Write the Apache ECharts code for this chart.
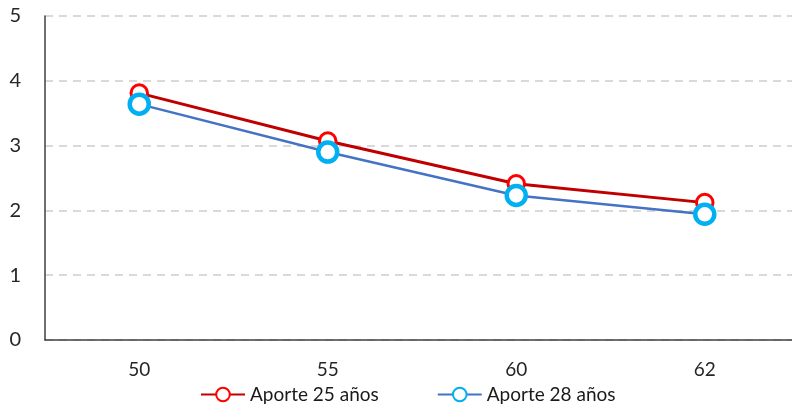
<!DOCTYPE html>
<html>
<head>
<meta charset="UTF-8">
<script src="https://cdn.jsdelivr.net/npm/echarts@6/dist/echarts.min.js"></script>
<style>
  html, body { margin: 0; padding: 0; background: #fff; }
  #chart { width: 792px; height: 410px; }
</style>
</head>
<body>
<div id="chart"></div>
<script>
// edades de jubilación
var categorias = ['50', '55', '60', '62'];
var aporte25 = [3.81, 3.07, 2.41, 2.12];
var aporte28 = [3.64, 2.90, 2.23, 1.94];
var nombres = ['Aporte 25 años', 'Aporte 28 años'];

var fuente = 'Lato, "Open Sans", sans-serif';
var chart = echarts.init(document.getElementById('chart'));

var option = {
  animation: false,
  backgroundColor: '#fff',
  textStyle: { fontFamily: fuente },
  grid: { left: 45, top: 16, width: 754, bottom: 70, outerBoundsMode: 'none', containLabel: false },
  legend: {
    data: nombres,
    bottom: 1,
    left: 195,
    itemGap: 58,
    itemWidth: 44,
    itemHeight: 17,
    textStyle: { fontSize: 19, color: '#1a1a1a', fontFamily: fuente }
  },
  xAxis: {
    type: 'category',
    data: categorias,
    axisLine: { lineStyle: { color: '#404040', width: 1.5 } },
    axisTick: { show: false },
    axisLabel: { fontSize: 19, color: '#262626', margin: 20, fontFamily: fuente }
  },
  yAxis: {
    type: 'value',
    min: 0,
    max: 5,
    interval: 1,
    axisLine: { show: true, lineStyle: { color: '#404040', width: 1.5 } },
    axisTick: { show: false },
    axisLabel: { fontSize: 20, color: '#262626', margin: 24, fontFamily: fuente },
    splitLine: { lineStyle: { color: '#d9d9d9', width: 2, type: [8, 6] } }
  },
  series: [
    {
      name: nombres[0],
      type: 'line',
      data: aporte25,
      symbol: 'circle',
      symbolSize: 16.5,
      lineStyle: { color: '#C00000', width: 3 },
      itemStyle: { color: '#fff', borderColor: '#FF0000', borderWidth: 3 },
      z: 2
    },
    {
      name: nombres[1],
      type: 'line',
      data: aporte28,
      symbol: 'circle',
      symbolSize: 19,
      lineStyle: { color: '#4472C4', width: 2.5 },
      itemStyle: { color: '#fff', borderColor: '#00B0F0', borderWidth: 4.5 },
      z: 3
    }
  ]
};

chart.setOption(option);
</script>
</body>
</html>
